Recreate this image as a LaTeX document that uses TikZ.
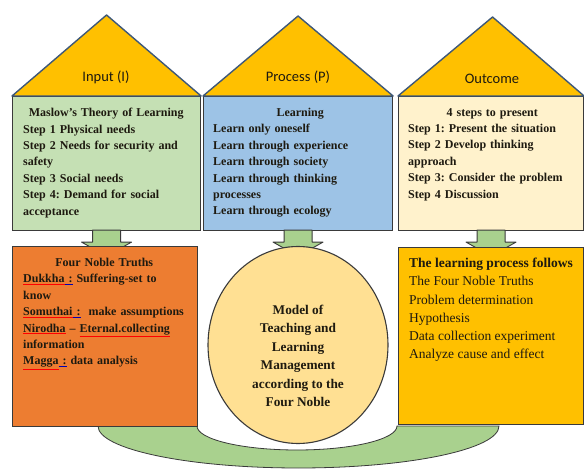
\documentclass[tikz,border=0pt]{standalone}
\usepackage{fontspec}
\setmainfont{Liberation Serif}
\newfontfamily\roofFont{Carlito}
\usetikzlibrary{shapes.geometric,calc}
\definecolor{roofc}{HTML}{FFC000}
\definecolor{roofline}{HTML}{3E5878}
\definecolor{ingreen}{HTML}{C5E0B4}
\definecolor{procblue}{HTML}{9DC3E6}
\definecolor{outcream}{HTML}{FFF2CC}
\definecolor{orangec}{HTML}{ED7D31}
\definecolor{circlec}{HTML}{FFE093}
\definecolor{goldc}{HTML}{FFC000}
\definecolor{bandc}{HTML}{A9D18E}
\definecolor{edgec}{HTML}{3A3A3A}
\definecolor{txtc}{HTML}{1E1A10}
\frenchspacing
\newcommand\redUL[1]{\textcolor{red}{\underline{\textcolor{txtc}{#1}}}}
\newcommand\blueUL[1]{\textcolor{blue!70!black}{\underline{\textcolor{txtc}{#1}}}}
\newcommand\blockArr[1]{\draw[arrowshape] ($(#1)+(-14,-1)$) -- ++(28,0) -- ++(0,12) -- ++(11,0) -- ++(-25,14) -- ++(-25,-14) -- ++(11,0) -- cycle;}
\begin{document}
\begin{tikzpicture}[x=1pt,y=-1pt,
  boxshape/.style={draw=edgec, line width=1.1pt, inner sep=0, anchor=north west},
  roof/.style={fill=roofc, draw=roofline, line width=1.4pt, line join=round},
  rooflabel/.style={font=\roofFont\fontsize{14.5}{16}\selectfont, text=txtc, inner sep=0},
  uptext/.style={font=\bfseries\fontsize{12}{16.4}\selectfont, text=txtc, inner sep=0, anchor=north west, align=left},
  arrowshape/.style={fill=bandc, draw=edgec, line width=0.9pt, line join=round},
]
\useasboundingbox (0,0) rectangle (584,470);

% green band behind the lower row
\draw[fill=bandc, draw=edgec, line width=0.8pt]
  (98,426) .. controls (98,449.2) and (187.8,468) .. (298.5,468)
  .. controls (409.2,468) and (499,449.2) .. (499,426)
  -- (397,426) .. controls (397,439.3) and (352.2,450) .. (297,450)
  .. controls (241.8,450) and (197,439.3) .. (197,426) -- cycle;

% upper boxes
\node[boxshape, fill=ingreen, minimum width=188, minimum height=134] (inbox) at (12,96) {};
\node[boxshape, fill=procblue, minimum width=189, minimum height=134] (procbox) at (203,96) {};
\node[boxshape, fill=outcream, minimum width=185, minimum height=134] (outbox) at (398,96) {};

% roofs
\draw[roof] (inbox.north west) -- ($(inbox.north)+(0,-81)$) -- (inbox.north east) -- cycle;
\draw[roof] (procbox.north west) -- ($(procbox.north)+(0,-80)$) -- (procbox.north east) -- cycle;
\draw[roof] (outbox.north west) -- ($(outbox.north)+(1.5,-79)$) -- (outbox.north east) -- cycle;

\node[rooflabel] (inlabel) at (106,77) {Input (I)};
\node[rooflabel] (proclabel) at (298,77) {Process (P)};
\node[rooflabel] (outlabel) at (492,79) {Outcome};

% upper texts
\node[uptext, text width=180] (intext) at (23,108) {%
\makebox[166pt][c]{Maslow's Theory of Learning}\\
Step 1 Physical needs\\
Step 2 Needs for security and\\
safety\\
Step 3 Social needs\\
Step 4: Demand for social\\
acceptance};

\node[uptext, text width=176] (proctext) at (213,108) {%
\makebox[174pt][c]{Learning}\\
Learn only oneself\\
Learn through experience\\
Learn through society\\
Learn through thinking\\
processes\\
Learn through ecology};

\node[uptext, text width=172] (outtext) at (408,108) {%
\makebox[168pt][c]{4 steps to present}\\
Step 1: Present the situation\\
Step 2 Develop thinking\\
approach\\
Step 3: Consider the problem\\
Step 4 Discussion};

% block arrows
\blockArr{inbox.south}
\blockArr{procbox.south}
\blockArr{outbox.south}

% lower row
\node[boxshape, fill=orangec, minimum width=185, minimum height=180] (truthbox) at (12,246) {};
\node[ellipse, draw=edgec, line width=1.1pt, fill=circlec, minimum width=180, minimum height=197, inner sep=0] (model) at (298,345) {};
\node[boxshape, fill=goldc, minimum width=185, minimum height=177] (learnbox) at (398,247) {};

\node[uptext, text width=180] (truthtext) at (23,258) {%
\makebox[162pt][c]{Four Noble Truths}\\
\redUL{Dukkha}\blueUL{\ :} Suffering-set to\\
know\\
\redUL{Somuthai}\blueUL{\ :}\ \ make assumptions\\
\redUL{Nirodha} -- \redUL{Eternal.collecting}\\
information\\
\redUL{Magga}\blueUL{\ :} data analysis};

\node[font=\bfseries\fontsize{13.3}{18.4}\selectfont, text=txtc, inner sep=0, align=center, anchor=north] (modeltext) at (298,305) {%
Model of\\
Teaching and\\
Learning\\
Management\\
according to the\\
Four Noble};

\node[font=\fontsize{13.5}{18.2}\selectfont, text=txtc, inner sep=0, align=left, anchor=north west] (learntext) at (409,258) {%
\textbf{The learning process follows}\\
The Four Noble Truths\\
Problem determination\\
Hypothesis\\
Data collection experiment\\
Analyze cause and effect};
\end{tikzpicture}
\end{document}
